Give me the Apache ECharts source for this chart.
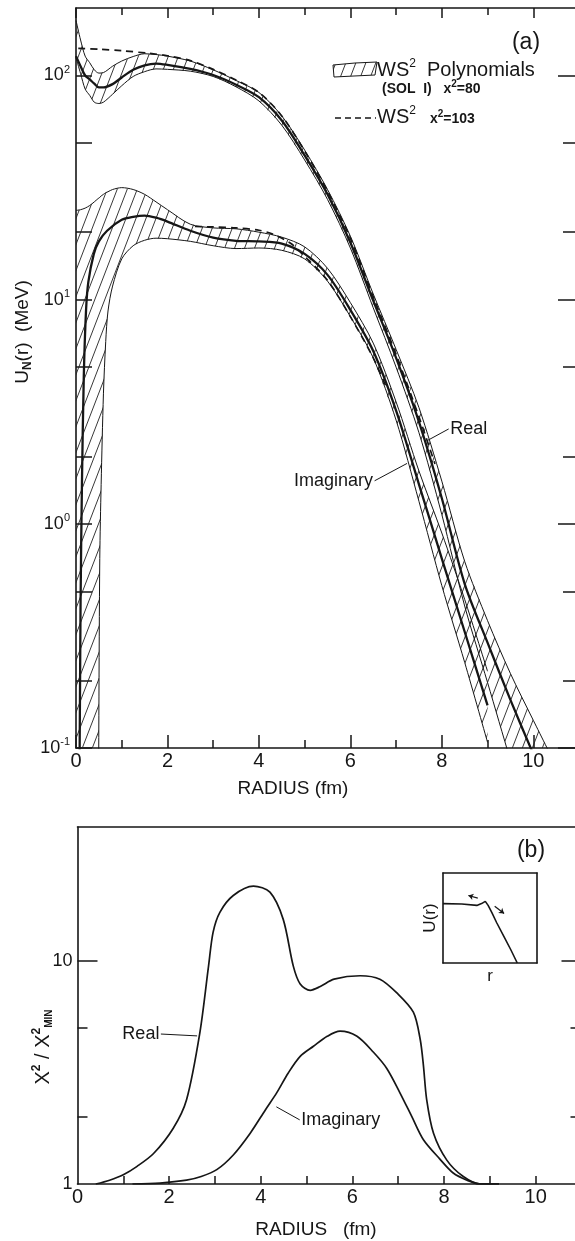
<!DOCTYPE html>
<html>
<head>
<meta charset="utf-8">
<title>U_N(r) and X2/X2min vs radius</title>
<script src="https://cdn.jsdelivr.net/npm/echarts@6/dist/echarts.min.js"></script>
<style>
  html, body { margin: 0; padding: 0; background: #fff; }
  #main { width: 575px; height: 1241px; }
</style>
</head>
<body>
<div id="main"></div>
<script>
// ---- panel (a): WS^2 polynomial bands (log scale, MeV) ----
var realR = [0, 0.1, 0.2, 0.3, 0.4, 0.5, 0.6, 0.8, 1.0, 1.25, 1.5, 1.75, 2.0, 2.5, 3.0, 3.5, 4.0, 4.5, 5.0, 5.5, 6.0, 6.5, 7.0, 7.5, 8.0, 8.5, 9.0, 9.5, 10.0, 10.5]
var realUpper = [176, 144, 122, 114, 106, 102.5, 103, 110, 116, 121.5, 125, 124, 122, 116, 106, 95, 84, 66, 46.5, 31, 19.2, 10.6, 6.0, 3.3, 1.55, 0.68, 0.37, 0.215, 0.133, 0.083]
var realMid = [122, 110, 100, 96, 92, 88.5, 88.5, 91.5, 98, 106, 111, 113, 111.5, 107, 100.5, 91, 80, 63, 44, 29.5, 18, 9.9, 5.5, 2.85, 1.3, 0.54, 0.295, 0.164, 0.094, 0.055]
var realLower = [120, 102, 87, 81.5, 76, 75, 76, 82.5, 90, 99, 104, 107, 106.5, 104.5, 99, 89, 77, 60, 42, 28, 17, 9.2, 5.0, 2.55, 1.1, 0.43, 0.196, 0.088, 0.04, 0.018]

var imagR = [0, 0.1, 0.2, 0.3, 0.4, 0.48, 0.5, 0.52, 0.55, 0.6, 0.65, 0.7, 0.8, 1.0, 1.25, 1.5, 1.75, 2.0, 2.5, 3.0, 3.5, 4.0, 4.5, 5.0, 5.5, 6.0, 6.5, 7.0, 7.5, 8.0, 8.5, 9.0]
var imagUpper = [25, 25.2, 25.6, 26.3, 27.3, 28.2, 28.4, 28.6, 29, 29.5, 30, 30.3, 31, 31.6, 31, 29.5, 27.3, 25.2, 21.7, 20.9, 20.7, 20.0, 19.0, 17.2, 13.8, 9.7, 6.4, 3.5, 1.72, 0.91, 0.46, 0.22]
var imagLower = [0.01, 0.01, 0.01, 0.01, 0.01, 0.02, 0.14, 0.7, 1.5, 3.8, 6.5, 8.9, 11.5, 15.2, 17.4, 18.4, 18.8, 18.7, 18.2, 17.4, 16.9, 17.0, 16.6, 15.2, 12.1, 8.4, 5.5, 2.9, 1.26, 0.53, 0.241, 0.106]
var imagMidR = [0.06, 0.08, 0.1, 0.13, 0.17, 0.22, 0.27, 0.39, 0.5, 0.68, 1.0, 1.25, 1.5, 1.75, 2.0, 2.5, 3.0, 3.5, 4.0, 4.5, 5.0, 5.5, 6.0, 6.5, 7.0, 7.5, 8.0, 8.5, 9.0]
var imagMid = [0.05, 0.1, 0.45, 1.5, 4.5, 9, 12, 16, 18.2, 20.3, 22.7, 23.4, 23.7, 23.2, 22.3, 20.3, 18.9, 18.3, 18.2, 17.8, 16, 12.9, 9.0, 5.9, 3.2, 1.5, 0.7, 0.33, 0.155]

// WS^2 fit, x^2 = 103 (dashed)
var realDashR = [0.05, 0.5, 1.0, 1.6, 2.0, 2.5, 3.0, 3.5, 4.0, 4.5, 5.0, 5.5, 6.0, 6.5, 7.0, 7.5, 7.85]
var realDash = [132, 131, 129, 125.5, 122.5, 116.5, 106.5, 95.5, 84, 66, 46, 30.5, 18.8, 10.3, 5.7, 3.0, 1.85]
var imagDashR = [2.6, 3.0, 3.5, 4.0, 4.3, 4.7, 5.0, 5.5, 6.0, 6.5, 6.8]
var imagDash = [21.2, 21.1, 20.9, 20.4, 19.6, 17.8, 15.6, 12.2, 8.4, 5.5, 4.0]

// leader lines for the curve names (data coords)
var realTagLine = [[7.68, 2.35], [8.15, 2.65]]
var imagTagLine = [[7.24, 1.86], [6.53, 1.556]]

// ---- panel (b): X^2 / X^2min ----
var chiRealR = [0.4, 0.7, 1.0, 1.3, 1.66, 2.09, 2.38, 2.67, 2.86, 2.96, 3.11, 3.4, 3.84, 4.2, 4.49, 4.71, 4.86, 5.08, 5.3, 5.6, 6.17, 6.6, 6.97, 7.33, 7.48, 7.55, 7.62, 7.77, 8.06, 8.42, 8.79, 9.2]
var chiReal = [1.0, 1.04, 1.1, 1.2, 1.37, 1.78, 2.39, 4.77, 9.5, 13.5, 16.6, 19.7, 21.7, 20.4, 15.4, 9.5, 7.9, 7.4, 7.7, 8.3, 8.6, 8.3, 7.2, 5.9, 4.45, 3.4, 2.4, 1.69, 1.28, 1.08, 1.0, 1.0]
var chiImagR = [1.2, 1.8, 2.38, 2.7, 3.04, 3.4, 3.77, 4.1, 4.35, 4.6, 4.86, 5.15, 5.45, 5.73, 6.1, 6.46, 6.75, 7.04, 7.3, 7.55, 7.9, 8.2, 8.5, 8.79, 9.2]
var chiImag = [1.0, 1.01, 1.04, 1.08, 1.16, 1.35, 1.69, 2.15, 2.57, 3.15, 3.74, 4.15, 4.6, 4.85, 4.6, 3.9, 3.3, 2.56, 2.0, 1.58, 1.3, 1.12, 1.04, 1.0, 1.0]
var chiRealTagLine = [[1.82, 4.71], [2.61, 4.62]]
var chiImagTagLine = [[4.34, 2.22], [4.85, 1.94]]

// inset sketch U(r) vs r
var insetX = [0, 0.2, 0.36, 0.41, 0.45, 0.48, 0.52, 0.57, 0.65, 0.72, 0.79]
var insetY = [0.66, 0.655, 0.64, 0.66, 0.685, 0.64, 0.56, 0.45, 0.29, 0.15, 0.0]
var insetArrowL = [[0.37, 0.72], [0.27, 0.75]]
var insetArrowR = [[0.55, 0.63], [0.65, 0.55]]

// ticks
var xLabels = [0, 2, 4, 6, 8, 10]
var xOdd = [1, 3, 5, 7, 9]
var xAll = [1, 2, 3, 4, 5, 6, 7, 8, 9, 10]
var yTicksA = [0.1, 0.2, 0.5, 1, 2, 5, 10, 20, 50, 100]
var yDecadesA = [0.1, 1, 10, 100]
var yMinorA = [0.2, 0.5, 2, 5, 20, 50]
var yLabelsB = [1, 10]
var yMinorB = [2, 5]

var FONT = '"Liberation Sans", Arial, sans-serif'
var INK = '#161616'

// hatch pattern for the bands
var hatch = document.createElement('canvas')
hatch.width = 10
hatch.height = 26
var hc = hatch.getContext('2d')
hc.strokeStyle = '#222'
hc.lineWidth = 0.9
for (var k = -1; k <= 1; k++) {
  hc.beginPath()
  hc.moveTo(k * 10, 26)
  hc.lineTo(k * 10 + 10, 0)
  hc.stroke()
}
var hatchFill = { image: hatch, repeat: 'repeat' }

function pairs(xs, ys) {
  var out = []
  for (var i = 0; i < xs.length; i++) {
    out.push([xs[i], ys[i]])
  }
  return out
}

function curve(xi, yi, data, width, dash) {
  return {
    type: 'line',
    xAxisIndex: xi,
    yAxisIndex: yi,
    data: data,
    smooth: 0.3,
    symbol: 'none',
    silent: true,
    lineStyle: { color: INK, width: width, type: dash || 'solid' }
  }
}
// hatched region between two edges, drawn through the axis scales
function bandFill(xs, up, low) {
  return {
    type: 'custom',
    xAxisIndex: 0,
    yAxisIndex: 0,
    silent: true,
    clip: true,
    data: [[1, 1]],
    renderItem: function(params, api) {
      var pts = []
      for (var i = 0; i < xs.length; i++) {
        pts.push(api.coord([xs[i], up[i]]))
      }
      for (var j = xs.length - 1; j >= 0; j--) {
        pts.push(api.coord([xs[j], low[j]]))
      }
      var cs = params.coordSys
      return {
        type: 'polygon',
        shape: { points: pts },
        clipPath: { type: 'rect', shape: { x: cs.x, y: cs.y, width: cs.width, height: cs.height } },
        style: { fill: hatchFill, stroke: null }
      }
    }
  }
}
function tag(xi, yi, name, pt, pos) {
  return {
    type: 'scatter',
    xAxisIndex: xi,
    yAxisIndex: yi,
    symbolSize: 1,
    silent: true,
    itemStyle: { color: 'rgba(0,0,0,0)', opacity: 1 },
    data: [{ name: name, value: pt }],
    label: {
      show: true,
      formatter: '{b}',
      position: pos,
      distance: 1,
      color: INK,
      opacity: 1,
      fontSize: 18,
      fontFamily: FONT
    }
  }
}
function leader(xi, yi, data) {
  var s = curve(xi, yi, data, 1)
  s.smooth = false
  return s
}

var axisLine = { show: true, onZero: false, lineStyle: { color: INK, width: 1.6 } }
var noLine = { show: false, onZero: false }

function xAx(grid, pos, opt) {
  return {
    type: 'value',
    gridIndex: grid,
    position: pos,
    min: 0,
    max: 11,
    axisLine: opt.line ? axisLine : noLine,
    splitLine: { show: false },
    axisTick: opt.ticks
      ? { show: true, inside: true, length: opt.len, customValues: opt.ticks, lineStyle: { color: INK, width: 1.5 } }
      : { show: false },
    axisLabel: opt.labels
      ? { show: true, customValues: opt.labels, color: INK, fontSize: 20, fontFamily: FONT, margin: 3 }
      : { show: false }
  }
}
function yAx(grid, pos, min, max, opt) {
  return {
    type: 'log',
    logBase: 10,
    gridIndex: grid,
    position: pos,
    min: min,
    max: max,
    axisLine: opt.line ? axisLine : noLine,
    splitLine: { show: false },
    axisTick: opt.ticks
      ? { show: true, inside: true, length: opt.len, customValues: opt.ticks, lineStyle: { color: INK, width: 1.5 } }
      : { show: false },
    axisLabel: opt.labels || { show: false }
  }
}

var option = {
  animation: false,
  backgroundColor: '#fff',
  grid: [
    { left: 76, top: 8, width: 503, height: 740, outerBoundsMode: 'none' },
    { left: 77.5, top: 827, width: 504, height: 357, outerBoundsMode: 'none' },
    { left: 443, top: 873, width: 94, height: 90, outerBoundsMode: 'none' }
  ],
  xAxis: [
    xAx(0, 'bottom', { line: true, ticks: xLabels, len: 13, labels: xLabels }),
    xAx(0, 'bottom', { ticks: xOdd, len: 8 }),
    xAx(0, 'top', { line: true, ticks: xLabels, len: 10 }),
    xAx(0, 'top', { ticks: xOdd, len: 7 }),
    xAx(1, 'bottom', { line: true, ticks: xAll, len: 8, labels: xLabels }),
    xAx(1, 'top', { line: true }),
    {
      type: 'value', gridIndex: 2, position: 'bottom', min: 0, max: 1,
      axisLine: axisLine, axisTick: { show: false }, axisLabel: { show: false }, splitLine: { show: false },
      name: 'r', nameLocation: 'middle', nameGap: 5,
      nameTextStyle: { color: INK, fontSize: 17, fontFamily: FONT }
    },
    {
      type: 'value', gridIndex: 2, position: 'top', min: 0, max: 1,
      axisLine: axisLine, axisTick: { show: false }, axisLabel: { show: false }, splitLine: { show: false }
    }
  ],
  yAxis: [
    yAx(0, 'left', 0.1, 200, {
      line: true,
      ticks: yTicksA,
      len: 16,
      labels: {
        show: true,
        customValues: yDecadesA,
        margin: 6,
        formatter: function(v) {
          var e = Math.round(Math.log(v) / Math.LN10)
          return '{b|10}{e|' + e + '}'
        },
        rich: {
          b: { fontSize: 18, fontFamily: FONT, color: INK },
          e: { fontSize: 11, fontFamily: FONT, color: INK, padding: [0, 0, 12, 0] }
        }
      }
    }),
    yAx(0, 'right', 0.1, 200, { line: true, ticks: yDecadesA, len: 21 }),
    yAx(0, 'right', 0.1, 200, { ticks: yMinorA, len: 16 }),
    yAx(1, 'left', 1, 40, {
      line: true,
      ticks: [10],
      len: 20,
      labels: { show: true, customValues: yLabelsB, margin: 5, color: INK, fontSize: 18, fontFamily: FONT }
    }),
    yAx(1, 'left', 1, 40, { ticks: yMinorB, len: 10 }),
    yAx(1, 'right', 1, 40, { line: true, ticks: [10], len: 20 }),
    yAx(1, 'right', 1, 40, { ticks: yMinorB, len: 11 }),
    {
      type: 'value', gridIndex: 2, position: 'left', min: 0, max: 1,
      axisLine: axisLine, axisTick: { show: false }, axisLabel: { show: false }, splitLine: { show: false },
      name: 'U(r)', nameLocation: 'middle', nameGap: 4, nameRotate: 90,
      nameTextStyle: { color: INK, fontSize: 17, fontFamily: FONT }
    },
    {
      type: 'value', gridIndex: 2, position: 'right', min: 0, max: 1,
      axisLine: axisLine, axisTick: { show: false }, axisLabel: { show: false }, splitLine: { show: false }
    }
  ],
  series: [
    // hatched bands
    bandFill(realR, realUpper, realLower),
    bandFill(imagR, imagUpper, imagLower),
    curve(0, 0, pairs(realR, realUpper), 1),
    curve(0, 0, pairs(realR, realLower), 1),
    curve(0, 0, pairs(imagR, imagUpper), 1),
    curve(0, 0, pairs(imagR, imagLower), 1),
    // best fits
    curve(0, 0, pairs(realR, realMid), 2.3),
    curve(0, 0, pairs(imagMidR, imagMid), 2.3),
    // WS^2 x^2=103
    curve(0, 0, pairs(realDashR, realDash), 1.7, [7, 5]),
    curve(0, 0, pairs(imagDashR, imagDash), 1.7, [7, 5]),
    leader(0, 0, realTagLine),
    leader(0, 0, imagTagLine),
    tag(0, 0, 'Real', realTagLine[1], 'right'),
    tag(0, 0, 'Imaginary', imagTagLine[1], 'left'),
    // panel (b)
    curve(4, 3, pairs(chiRealR, chiReal), 1.7),
    curve(4, 3, pairs(chiImagR, chiImag), 1.7),
    leader(4, 3, chiRealTagLine),
    leader(4, 3, chiImagTagLine),
    tag(4, 3, 'Real', chiRealTagLine[0], 'left'),
    tag(4, 3, 'Imaginary', chiImagTagLine[1], 'right'),
    // inset
    {
      type: 'line',
      xAxisIndex: 6,
      yAxisIndex: 7,
      data: pairs(insetX, insetY),
      symbol: 'none',
      silent: true,
      lineStyle: { color: INK, width: 1.6 },
      markLine: {
        silent: true,
        symbol: ['none', 'arrow'],
        symbolSize: 5,
        label: { show: false },
        lineStyle: { color: INK, width: 1.2, type: 'solid' },
        data: [
          [{ coord: insetArrowL[0] }, { coord: insetArrowL[1] }],
          [{ coord: insetArrowR[0] }, { coord: insetArrowR[1] }]
        ]
      }
    }
  ],
  graphic: [
    { type: 'text', x: 526, y: 43, style: { text: '(a)', fontSize: 23, fontFamily: FONT, fill: INK, align: 'center', verticalAlign: 'middle' } },
    { type: 'text', x: 531, y: 851, style: { text: '(b)', fontSize: 23, fontFamily: FONT, fill: INK, align: 'center', verticalAlign: 'middle' } },
    // legend
    {
      type: 'polygon',
      shape: { points: [[333, 65], [355, 63], [377, 62], [375, 75], [354, 76], [334, 77]] },
      style: { fill: hatchFill, stroke: INK, lineWidth: 1 }
    },
    {
      type: 'text', x: 377, y: 70,
      style: {
        text: '{b|WS}{s|2}{b|  Polynomials}', align: 'left', verticalAlign: 'middle',
        rich: {
          b: { fontSize: 20, fontFamily: FONT, fill: INK },
          s: { fontSize: 12, fontFamily: FONT, fill: INK, padding: [0, 0, 12, 0] }
        }
      }
    },
    {
      type: 'text', x: 382, y: 89,
      style: {
        text: '{t|(SOL  I)   x}{u|2}{t|=80}', align: 'left', verticalAlign: 'middle',
        rich: {
          t: { fontSize: 14, fontWeight: 'bold', fontFamily: FONT, fill: INK },
          u: { fontSize: 10, fontWeight: 'bold', fontFamily: FONT, fill: INK, padding: [0, 0, 9, 0] }
        }
      }
    },
    { type: 'line', shape: { x1: 335, y1: 118, x2: 376, y2: 118 }, style: { stroke: INK, lineWidth: 1.6, lineDash: [6, 4] } },
    {
      type: 'text', x: 377, y: 117,
      style: {
        text: '{b|WS}{s|2}', align: 'left', verticalAlign: 'middle',
        rich: {
          b: { fontSize: 20, fontFamily: FONT, fill: INK },
          s: { fontSize: 12, fontFamily: FONT, fill: INK, padding: [0, 0, 12, 0] }
        }
      }
    },
    {
      type: 'text', x: 430, y: 119,
      style: {
        text: '{t|x}{u|2}{t|=103}', align: 'left', verticalAlign: 'middle',
        rich: {
          t: { fontSize: 14, fontWeight: 'bold', fontFamily: FONT, fill: INK },
          u: { fontSize: 10, fontWeight: 'bold', fontFamily: FONT, fill: INK, padding: [0, 0, 9, 0] }
        }
      }
    },
    // axis titles
    { type: 'text', x: 293, y: 789, style: { text: 'RADIUS (fm)', fontSize: 19, fontFamily: FONT, fill: INK, align: 'center', verticalAlign: 'middle' } },
    {
      type: 'text', x: 23, y: 332, rotation: Math.PI / 2,
      style: {
        text: '{b|U}{n|N}{b|(r)  (MeV)}', align: 'center', verticalAlign: 'middle',
        rich: {
          b: { fontSize: 19, fontFamily: FONT, fill: INK },
          n: { fontSize: 12, fontWeight: 'bold', fontFamily: FONT, fill: INK, padding: [10, 0, 0, 0] }
        }
      }
    },
    { type: 'text', x: 316, y: 1230, style: { text: 'RADIUS   (fm)', fontSize: 19, fontFamily: FONT, fill: INK, align: 'center', verticalAlign: 'middle' } },
    {
      type: 'text', x: 43, y: 1047, rotation: Math.PI / 2,
      style: {
        text: '{b|X}{s|2}{b| / X}{s|2}{m|MIN}', align: 'center', verticalAlign: 'middle',
        rich: {
          b: { fontSize: 20, fontFamily: FONT, fill: INK },
          s: { fontSize: 12, fontWeight: 'bold', fontFamily: FONT, fill: INK, padding: [0, 0, 12, 0] },
          m: { fontSize: 10, fontWeight: 'bold', fontFamily: FONT, fill: INK, padding: [12, 0, 0, 0] }
        }
      }
    }
  ]
}

var chart = echarts.init(document.getElementById('main'), null, { renderer: 'canvas' })
chart.setOption(option)
</script>
</body>
</html>
